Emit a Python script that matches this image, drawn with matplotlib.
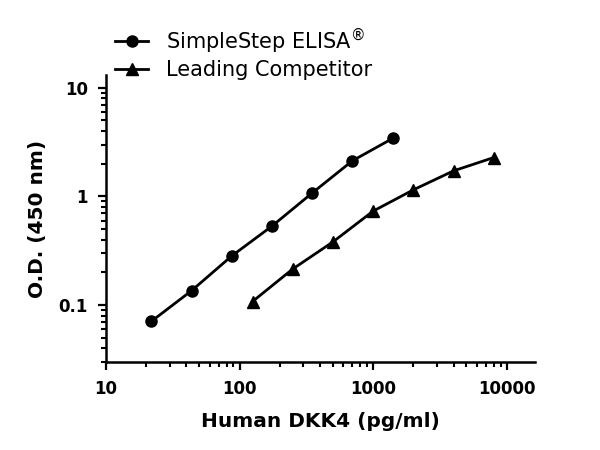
import matplotlib
matplotlib.use("Agg")
import matplotlib.pyplot as plt
from matplotlib.ticker import LogLocator, NullFormatter

# data
simplestep_conc = [21.875, 43.75, 87.5, 175, 350, 700, 1400]
simplestep_od = [0.071, 0.136, 0.284, 0.534, 1.077, 2.13, 3.42]
competitor_conc = [125, 250, 500, 1000, 2000, 4000, 8000]
competitor_od = [0.108, 0.215, 0.382, 0.733, 1.15, 1.72, 2.28]

x_ticks = [10, 100, 1000, 10000]
x_tick_labels = ["10", "100", "1000", "10000"]
y_ticks = [0.1, 1, 10]
y_tick_labels = ["0.1", "1", "10"]

plt.rcParams['font.family'] = ['DejaVu Sans']

fig = plt.figure(figsize=(6, 4.5), dpi=100)
ax = fig.add_axes([0.1767, 0.1956, 0.715, 0.6377])

ax.plot(simplestep_conc, simplestep_od, color='black', marker='o',
        markersize=8, linewidth=2, label=r"SimpleStep ELISA$^{\circledR}$",
        clip_on=False)
ax.plot(competitor_conc, competitor_od, color='black', marker='^',
        markersize=8.5, linewidth=2, label="Leading Competitor",
        clip_on=False)

ax.set_xscale('log')
ax.set_yscale('log')
ax.set_xlim(10, 16300)
ax.set_ylim(0.03, 13.1)

ax.set_xticks(x_ticks)
ax.set_xticklabels(x_tick_labels)
ax.set_yticks(y_ticks)
ax.set_yticklabels(y_tick_labels)
ax.xaxis.set_minor_locator(LogLocator(base=10, subs=range(2, 10)))
ax.yaxis.set_minor_locator(LogLocator(base=10, subs=range(2, 10)))
ax.xaxis.set_minor_formatter(NullFormatter())
ax.yaxis.set_minor_formatter(NullFormatter())

for lbl in ax.get_xticklabels() + ax.get_yticklabels():
    lbl.set_fontweight('bold')
    lbl.set_fontsize(12)

ax.tick_params(which='major', direction='out', length=6, width=1.6, pad=7)
ax.tick_params(which='minor', direction='out', length=3.5, width=1.5)

ax.spines['top'].set_visible(False)
ax.spines['right'].set_visible(False)
ax.spines['left'].set_linewidth(1.8)
ax.spines['bottom'].set_linewidth(1.8)

ax.set_xlabel("Human DKK4 (pg/ml)", fontsize=14.5, fontweight='bold', labelpad=10)
ax.set_ylabel("O.D. (450 nm)", fontsize=14.5, fontweight='bold', labelpad=8)

fig.legend(loc='upper left', bbox_to_anchor=(0.178, 0.96), frameon=False,
           fontsize=15, handlelength=1.6, handletextpad=0.85, labelspacing=0.2,
           borderaxespad=0)

fig.savefig("out.png", dpi=100)
